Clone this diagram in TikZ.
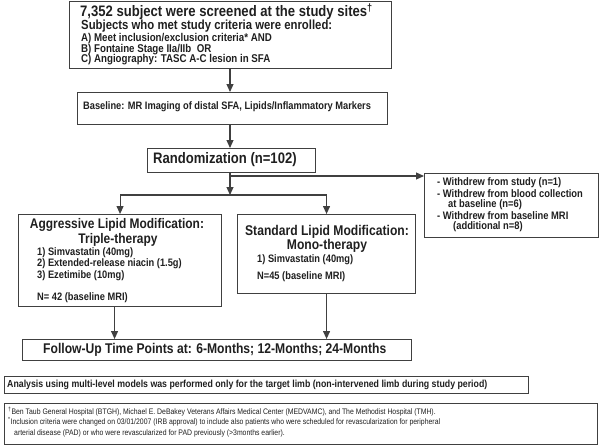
\documentclass[tikz,border=0pt]{standalone}
\usepackage{fontspec}
\setmainfont{Liberation Sans}[FakeStretch=0.86]
\usetikzlibrary{arrows.meta}
\definecolor{lc}{gray}{0.25}
\definecolor{tc}{gray}{0.12}
\newcommand\fsz[1]{\fontsize{#1}{#1}\selectfont}
\begin{document}
\begin{tikzpicture}[x=1pt,y=-1pt,
  box/.style={draw=lc,line width=1.1pt,rectangle,inner sep=0pt,anchor=north west},
  lbl/.style={inner sep=0pt,text=tc,font=\bfseries},
  fnt/.style={inner sep=0pt,text=tc},
  arr/.style={draw=lc,line width=1.1pt,-{Triangle[length=8pt,width=7pt]}},
  ln/.style={draw=lc,line width=1.1pt}]
\useasboundingbox (0,0) rectangle (600,445);
% boxes
\node[box,minimum width=322pt,minimum height=67pt] (b1) at (69,1) {};
\node[box,minimum width=310pt,minimum height=32pt] (b2) at (77,92) {};
\node[box,minimum width=168pt,minimum height=24pt] (rand) at (147,148) {};
\node[box,minimum width=174pt,minimum height=64pt] (wd) at (424,173) {};
\node[box,minimum width=203pt,minimum height=92pt] (lt) at (18,214) {};
\node[box,minimum width=178pt,minimum height=79pt] (md) at (237,214) {};
\node[box,minimum width=389pt,minimum height=21pt] (fu) at (22,339) {};
\node[box,minimum width=524pt,minimum height=17pt] (an) at (4,376) {};
\node[box,minimum width=593pt,minimum height=41pt] (fn) at (4,403) {};
% box 1 text
\node[lbl,anchor=west,font=\bfseries\fsz{15.2}] (t1) at (80,12) {7,352 subject were screened at the study sites\textsuperscript{\textdagger}};
\node[lbl,anchor=west,font=\bfseries\fsz{13.2}] (t2) at (81,26.5) {Subjects who met study criteria were enrolled:};
\node[lbl,anchor=west,font=\bfseries\fsz{11.3}] (t3) at (81,38.5) {A) Meet inclusion/exclusion criteria* AND};
\node[lbl,anchor=west,font=\bfseries\fsz{11.3}] (t4) at (81,49.5) {B) Fontaine Stage IIa/IIb\ \ OR};
\node[lbl,anchor=west,font=\bfseries\fsz{11.3}] (t5) at (81,60) {C) Angiography: TASC A-C lesion in SFA};
% box 2
\node[lbl,anchor=west,font=\bfseries\fsz{10.8}] (t6) at (83,107) {Baseline: MR Imaging of distal SFA, Lipids/Inflammatory Markers};
% randomization
\node[lbl,anchor=west,font=\bfseries\fsz{15.2}] (t7) at (153,160) {Randomization (n=102)};
% withdraw
\node[lbl,anchor=west,font=\bfseries\fsz{10.9}] (w1) at (437,183) {- Withdrew from study (n=1)};
\node[lbl,anchor=west,font=\bfseries\fsz{10.9}] (w2) at (437,193.5) {- Withdrew from blood collection};
\node[lbl,anchor=west,font=\bfseries\fsz{10.9}] (w3) at (448,204.5) {at baseline (n=6)};
\node[lbl,anchor=west,font=\bfseries\fsz{10.9}] (w4) at (437,216) {- Withdrew from baseline MRI};
\node[lbl,anchor=west,font=\bfseries\fsz{10.9}] (w5) at (453,227) {(additional n=8)};
% left box
\node[lbl,font=\bfseries\fsz{13.9}] (l1) at (117,225) {Aggressive Lipid Modification:};
\node[lbl,font=\bfseries\fsz{13.9}] (l2) at (118,240) {Triple-therapy};
\node[lbl,anchor=west,font=\bfseries\fsz{10.8}] (l3) at (37,252.5) {1) Simvastatin (40mg)};
\node[lbl,anchor=west,font=\bfseries\fsz{10.8}] (l4) at (37,264) {2) Extended-release niacin (1.5g)};
\node[lbl,anchor=west,font=\bfseries\fsz{10.8}] (l5) at (37,275.5) {3) Ezetimibe (10mg)};
\node[lbl,anchor=west,font=\bfseries\fsz{10.8}] (l6) at (37,298) {N= 42 (baseline MRI)};
% middle box
\node[lbl,font=\bfseries\fsz{14.1}] (m1) at (327,232) {Standard Lipid Modification:};
\node[lbl,font=\bfseries\fsz{14.1}] (m2) at (327,246) {Mono-therapy};
\node[lbl,anchor=west,font=\bfseries\fsz{10.8}] (m3) at (257,260) {1) Simvastatin (40mg)};
\node[lbl,anchor=west,font=\bfseries\fsz{10.8}] (m4) at (257,277) {N=45 (baseline MRI)};
% follow-up
\node[lbl,anchor=west,font=\bfseries\fsz{14.1}] (f1) at (43,350) {Follow-Up Time Points at: 6-Months; 12-Months; 24-Months};
% analysis
\node[lbl,anchor=west,font=\bfseries\fsz{10.2}] (a1) at (7,384.5) {Analysis using multi-level models was performed only for the target limb (non-intervened limb during study period)};
% footnotes
\node[fnt,anchor=west,font=\fsz{8.0}] (n1) at (8,412) {\textsuperscript{\textdagger}Ben Taub General Hospital (BTGH), Michael E. DeBakey Veterans Affairs Medical Center (MEDVAMC), and The Methodist Hospital (TMH).};
\node[fnt,anchor=west,font=\fsz{8.0}] (n2) at (8,422) {\textsuperscript{*}Inclusion criteria were changed on 03/01/2007 (IRB approval) to include also patients who were scheduled for revascularization for peripheral};
\node[fnt,anchor=west,font=\fsz{8.0}] (n3) at (14,433) {arterial disease (PAD) or who were revascularized for PAD previously (>3months earlier).};
% connectors
\coordinate (br) at (230,176);
\coordinate (sp) at (230,195);
\draw[arr] (b1.south -| br) -- (b2.north -| br);
\draw[arr] (b2.south -| br) -- (rand.north -| br);
\draw[ln] (rand.south -| br) -- (br);
\draw[arr] (br) -- (br -| wd.west);
\draw[arr] (br) -- (sp);
\draw[ln] (sp -| lt.north) -- (sp -| md.north);
\draw[arr] (sp -| lt.north) -- (lt.north);
\draw[arr] (sp -| md.north) -- (md.north);
\draw[arr] ([xshift=-5.5pt]lt.south) -- ([xshift=-5.5pt]lt.south |- fu.north);
\draw[arr] (md.south) -- (md.south |- fu.north);
\end{tikzpicture}
\end{document}
